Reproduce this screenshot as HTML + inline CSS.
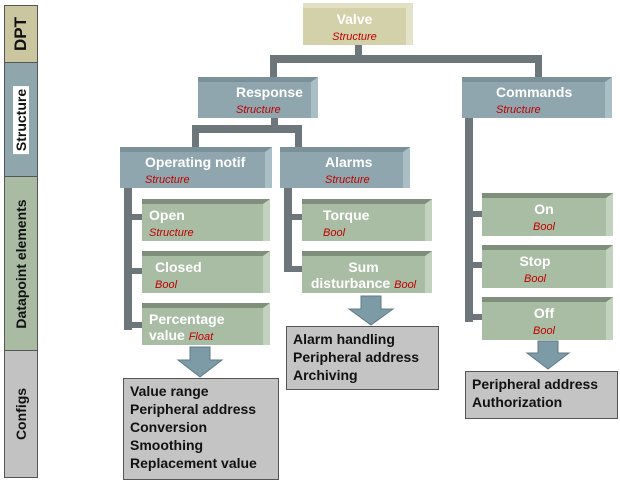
<!DOCTYPE html>
<html><head><meta charset="utf-8"><style>
body{margin:0;width:620px;height:484px;background:#fff;position:relative;overflow:hidden;font-family:"Liberation Sans",Arial,sans-serif;}
.a{position:absolute;}
.b{position:absolute;box-sizing:border-box;color:#fff;font-weight:bold;font-size:14px;line-height:16px;}
.b i{color:#c00000;font-size:11px;font-weight:normal;font-style:italic;}
.tan{background:#d3d1a9;border-top:5px solid #e2e0c4;border-right:7px solid #e4e2c8;}
.blu{background:#8fa6ae;border-top:5px solid #7a9199;border-right:7px solid #a9bec5;}
.grn{background:#a9bca4;border-top:5px solid #7f8f7c;border-right:7px solid #c3d2bf;}
.bar{position:absolute;background:#6d777b;}
.cfg{position:absolute;box-sizing:border-box;background:#c4c4c4;border:1px solid #555;font-weight:bold;font-size:14px;line-height:18px;color:#111;padding:3px 6px;}
.side{position:absolute;left:4px;width:34px;box-sizing:border-box;border:1px solid #555;}
.side span{position:absolute;left:50%;top:50%;transform:translate(-50%,-50%) rotate(-90deg);white-space:nowrap;font-weight:bold;font-size:14px;color:#111;}
</style></head><body>
<div class="side" style="top:5px;height:58px;background:#c9c6a0"><span style="font-size:17px">DPT</span></div>
<div class="side" style="top:62px;height:115px;background:#8fa6ad"><span style="background:#fff;padding:0 3px">Structure</span></div>
<div class="side" style="top:176px;height:175px;background:#a9bba2"><span>Datapoint elements</span></div>
<div class="side" style="top:350px;height:128px;background:#c2c2c2"><span>Configs</span></div>

<!-- connectors -->
<div class="bar" style="left:355px;top:44px;width:7px;height:16px"></div>
<div class="bar" style="left:270px;top:55px;width:272px;height:8px"></div>
<div class="bar" style="left:270px;top:55px;width:7px;height:25px"></div>
<div class="bar" style="left:535px;top:55px;width:7px;height:25px"></div>
<div class="bar" style="left:192px;top:125px;width:110px;height:8px"></div>
<div class="bar" style="left:271px;top:117px;width:7px;height:12px"></div>
<div class="bar" style="left:192px;top:125px;width:7px;height:25px"></div>
<div class="bar" style="left:295px;top:125px;width:7px;height:25px"></div>
<div class="bar" style="left:124px;top:188px;width:8px;height:142px"></div>
<div class="bar" style="left:124px;top:214px;width:20px;height:6px"></div>
<div class="bar" style="left:124px;top:268px;width:20px;height:6px"></div>
<div class="bar" style="left:124px;top:322px;width:20px;height:6px"></div>
<div class="bar" style="left:284px;top:188px;width:8px;height:84px"></div>
<div class="bar" style="left:284px;top:214px;width:20px;height:6px"></div>
<div class="bar" style="left:284px;top:266px;width:20px;height:6px"></div>
<div class="bar" style="left:465px;top:117px;width:8px;height:205px"></div>
<div class="bar" style="left:465px;top:211px;width:20px;height:6px"></div>
<div class="bar" style="left:465px;top:262px;width:20px;height:6px"></div>
<div class="bar" style="left:465px;top:314px;width:20px;height:6px"></div>

<!-- boxes -->
<div class="b tan" style="left:303px;top:3px;width:110px;height:42px;text-align:center;padding-top:3px">Valve<br><i>Structure</i></div>
<div class="b blu" style="left:198px;top:77px;width:120px;height:41px;padding:2px 0 0 38px">Response<br><i>Structure</i></div>
<div class="b blu" style="left:462px;top:77px;width:150px;height:41px;padding:2px 0 0 34px">Commands<br><i>Structure</i></div>
<div class="b blu" style="left:120px;top:147px;width:152px;height:41px;padding:2px 0 0 25px">Operating notif<br><i>Structure</i></div>
<div class="b blu" style="left:280px;top:147px;width:130px;height:41px;padding:2px 0 0 45px">Alarms<br><i>Structure</i></div>
<div class="b grn" style="left:142px;top:199px;width:128px;height:42px;padding:3px 0 0 7px">Open<br><i>Structure</i></div>
<div class="b grn" style="left:142px;top:251px;width:128px;height:42px;padding:3px 0 0 13px">Closed<br><i>Bool</i></div>
<div class="b grn" style="left:142px;top:303px;width:128px;height:42px;padding:3px 0 0 7px">Percentage<br>value <i>Float</i></div>
<div class="b grn" style="left:302px;top:199px;width:130px;height:42px;padding:3px 0 0 21px">Torque<br><i>Bool</i></div>
<div class="b grn" style="left:302px;top:251px;width:130px;height:42px;padding:3px 0 0 0;text-align:center">Sum<br>disturbance <i>Bool</i></div>
<div class="b grn" style="left:482px;top:193px;width:131px;height:43px;padding:3px 0 0 0;text-align:center">On<br><i>Bool</i></div>
<div class="b grn" style="left:482px;top:245px;width:131px;height:43px;padding:3px 18px 0 0;text-align:center">Stop<br><i>Bool</i></div>
<div class="b grn" style="left:482px;top:297px;width:131px;height:43px;padding:3px 0 0 0;text-align:center">Off<br><i>Bool</i></div>

<!-- arrows -->
<svg class="a" style="left:0;top:0" width="620" height="484">
<g fill="#7d9ba6" stroke="#5f7a84" stroke-width="1">
<polygon points="190,347 210,347 210,360 222,360 200,377 178,360 190,360"/>
<polygon points="361,296 381,296 381,309 393,309 371,325 349,309 361,309"/>
<polygon points="538,341 558,341 558,353 569,353 548,369 527,353 538,353"/>
</g></svg>

<div class="cfg" style="left:123px;top:378px;width:156px;height:102px">Value range<br>Peripheral address<br>Conversion<br>Smoothing<br>Replacement value</div>
<div class="cfg" style="left:286px;top:326px;width:153px;height:64px">Alarm handling<br>Peripheral address<br>Archiving</div>
<div class="cfg" style="left:465px;top:371px;width:153px;height:48px">Peripheral address<br>Authorization</div>
</body></html>
